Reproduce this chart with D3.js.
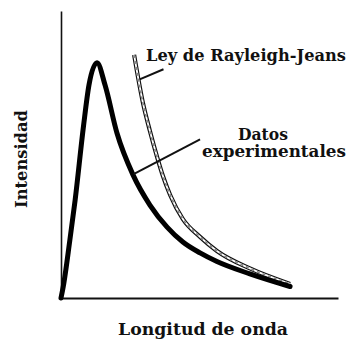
<!DOCTYPE html>
<html>
<head>
<meta charset="utf-8">
<script src="https://cdn.jsdelivr.net/npm/d3@7"></script>
<style>
  html, body { margin: 0; padding: 0; background: #fff; }
  svg { display: block; }
  text { font-family: "DejaVu Serif", "Liberation Serif", serif; font-weight: bold; fill: #111; }
</style>
</head>
<body>
<svg id="chart" width="347" height="342"></svg>
<script>
// Wavelength (arbitrary units, 0–100 along the axis) and intensity (0–100)
const expWavelength = [0, 0.8, 3.2, 5.1, 8.1, 10.1, 13.0, 15.9, 20.2, 26.0, 32.1, 38.3, 44.0, 50.2, 56.3, 68.2, 82.7];
const expIntensity  = [0, 3.9, 20.2, 34.1, 59.7, 74.2, 82.0, 74.2, 57.5, 42.9, 32.4, 24.7, 19.5, 15.7, 12.7, 8.4, 4.0];

const rjWavelength = [26.4, 29.6, 32.1, 34.7, 36.8, 39.4, 44.0, 50.2, 56.3, 68.2, 82.7];
const rjIntensity  = [84.7, 67.9, 58.2, 49.1, 42.5, 35.9, 27.5, 21.3, 16.4, 10.3, 4.9];

const xTitle = "Longitud de onda";
const yTitle = "Intensidad";
const rjLabel = ["Ley de Rayleigh-Jeans"];
const expLabel = ["Datos", "experimentales"];

// Leader lines: from a point on a curve to its label (data units)
const rjLeader  = [[28.4, 76.2], [37.0, 79.7]];
const expLeader = [[26.2, 43.2], [50.2, 55.3]];

const svg = d3.select("#chart");
const x = d3.scaleLinear().domain([0, 100]).range([61, 338]);
const y = d3.scaleLinear().domain([0, 100]).range([298, 11]);

// Axes: plain lines with no ticks
svg.append("g")
  .attr("transform", `translate(0,${y(0)})`)
  .call(d3.axisBottom(x).ticks(0).tickSizeOuter(0))
  .call(g => g.select(".domain").attr("stroke", "#111").attr("stroke-width", 2));
svg.append("g")
  .attr("transform", `translate(${x(0)},0)`)
  .call(d3.axisLeft(y).ticks(0).tickSizeOuter(0))
  .call(g => g.select(".domain").attr("stroke", "#111").attr("stroke-width", 1.6));

const line = d3.line()
  .x(d => x(d[0]))
  .y(d => y(d[1]))
  .curve(d3.curveMonotoneX);

const rjData = rjWavelength.map((w, i) => [w, rjIntensity[i]]);
const expData = expWavelength.map((w, i) => [w, expIntensity[i]]);

// Rayleigh-Jeans curve: hollow outline with a dashed grey core
svg.append("path").datum(rjData).attr("d", line)
  .attr("fill", "none").attr("stroke", "#111").attr("stroke-width", 4.2);
svg.append("path").datum(rjData).attr("d", line)
  .attr("fill", "none").attr("stroke", "#fff").attr("stroke-width", 1.8);
svg.append("path").datum(rjData).attr("d", line)
  .attr("fill", "none").attr("stroke", "#888").attr("stroke-width", 1.8)
  .attr("stroke-dasharray", "3,3");

// Experimental curve
svg.append("path").datum(expData).attr("d", line)
  .attr("fill", "none").attr("stroke", "#000").attr("stroke-width", 5)
  .attr("stroke-linecap", "round").attr("stroke-linejoin", "round");

// Leader lines
[rjLeader, expLeader].forEach(seg => {
  svg.append("line")
    .attr("x1", x(seg[0][0])).attr("y1", y(seg[0][1]))
    .attr("x2", x(seg[1][0])).attr("y2", y(seg[1][1]))
    .attr("stroke", "#111").attr("stroke-width", 2);
});

// Text helper: the serif face is drawn at a fixed size and scaled
// horizontally so each label spans the given width.
function label(txt, px, py, width, anchor, rotate) {
  const g = svg.append("g");
  const t = g.append("text")
    .attr("font-size", 16)
    .attr("text-anchor", anchor)
    .text(txt);
  const natural = t.node().getComputedTextLength();
  const sx = natural > 0 ? width / natural : 1;
  g.attr("transform", `translate(${px},${py})` + (rotate ? ` rotate(${rotate})` : "") + ` scale(${sx},1)`);
  return g;
}

// Curve labels
label(rjLabel[0], 146, 61, 200, "start");
label(expLabel[0], 263, 140, 50, "middle");
label(expLabel[1], 274, 157, 144, "middle");

// Axis titles
label(xTitle, 203, 335, 170, "middle");
label(yTitle, 27, 159, 98, "middle", -90);
</script>
</body>
</html>
